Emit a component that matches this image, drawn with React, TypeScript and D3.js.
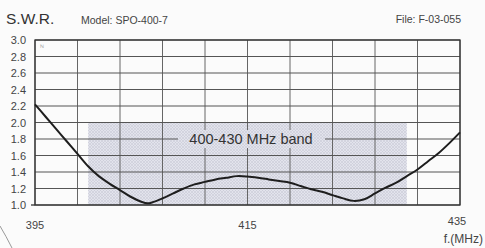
import React, { useEffect } from "react";
import * as d3 from "d3";

// S.W.R. curve (MHz, SWR)
const freqs = [395, 396, 397, 398, 399, 400, 401, 402, 403, 404, 405, 405.6, 406, 407, 408, 409, 410, 411, 412, 413, 414, 415, 416, 417, 418, 419, 420, 421, 422, 423, 424, 425, 426, 427, 428, 429, 430, 431, 432, 433, 434, 435];
const swr = [2.22, 2.07, 1.92, 1.77, 1.62, 1.47, 1.35, 1.26, 1.18, 1.1, 1.04, 1.02, 1.03, 1.08, 1.14, 1.2, 1.25, 1.28, 1.31, 1.33, 1.35, 1.345, 1.33, 1.31, 1.29, 1.27, 1.23, 1.19, 1.16, 1.12, 1.08, 1.05, 1.07, 1.14, 1.21, 1.27, 1.35, 1.43, 1.53, 1.63, 1.75, 1.88];
const xTickLabels = [395, 415, 435];
const band = { from: 400, to: 430, swrMax: 2.0, label: "400-430 MHz band" };
const title = "S.W.R.";
const model = "Model:  SPO-400-7";
const fileRef = "File:  F-03-055";
const xUnit = "f.(MHz)";

const W = 485;
const H = 248;
const font = "'Liberation Sans', Arial, sans-serif";

const App: React.FC = () => {
    useEffect(() => {
        document.body.style.margin = "0";
    }, []);

    const x = d3.scaleLinear().domain([395, 435]).range([35, 460]);
    const y = d3.scaleLinear().domain([1, 3]).range([205, 40]);

    const vGrid = d3.range(395, 435.1, 4);
    const hGrid = d3.range(1, 3.01, 0.2);

    const data = freqs.map((f, i) => ({ f, v: swr[i] }));
    const line = d3
        .line<{ f: number; v: number }>()
        .x((d) => x(d.f))
        .y((d) => y(d.v))
        .curve(d3.curveCatmullRom.alpha(0.5));

    const labelBox = { x0: 178, x1: 325, y0: y(1.8) - 9, y1: y(1.8) + 9 };

    return (
        <svg width={W} height={H} style={{ display: "block", background: "#fbfbfb" }} fontFamily={font}>
            <defs>
                <pattern id="hatch" width="3" height="3" patternUnits="userSpaceOnUse">
                    <rect width="3" height="3" fill="#e2e3ec" />
                    <path d="M0,0 L3,3 M3,0 L0,3" stroke="#c9cad6" strokeWidth="0.6" />
                </pattern>
            </defs>

            {/* header */}
            <text x={6} y={24} fontSize={15.5} fill="#333">{title}</text>
            <text x={81} y={23.5} fontSize={10.5} fill="#444">{model}</text>
            <text x={461} y={23} fontSize={10.5} fill="#444" textAnchor="end">{fileRef}</text>

            {/* band */}
            <rect
                x={x(band.from)}
                y={y(band.swrMax)}
                width={x(band.to) - x(band.from)}
                height={y(1) - y(band.swrMax)}
                fill="url(#hatch)"
            />

            {/* grid */}
            {vGrid.map((f) => (
                <line key={"v" + f} x1={x(f)} x2={x(f)} y1={y(3)} y2={y(1)} stroke="#666" strokeWidth={1} />
            ))}
            {hGrid.map((v) => (
                <line key={"h" + v} x1={x(395)} x2={x(435)} y1={y(v)} y2={y(v)} stroke="#555" strokeWidth={1.1} />
            ))}
            <rect x={x(395)} y={y(3)} width={x(435) - x(395)} height={y(1) - y(3)} fill="none" stroke="#333" strokeWidth={1.3} />
            <line x1={x(395) - 4} x2={x(395)} y1={y(1)} y2={y(1)} stroke="#333" strokeWidth={1.3} />

            {/* small mark in top-left cell */}
            <text x={40} y={48} fontSize={5} fill="#777">ℕ</text>

            {/* band label */}
            <rect
                x={labelBox.x0}
                y={labelBox.y0}
                width={labelBox.x1 - labelBox.x0}
                height={labelBox.y1 - labelBox.y0}
                fill="url(#hatch)"
            />
            <text x={(labelBox.x0 + labelBox.x1) / 2 - 0.5} y={y(1.8) + 5} fontSize={14.5} fill="#333" textAnchor="middle">
                {band.label}
            </text>

            {/* curve */}
            <path d={line(data) ?? ""} fill="none" stroke="#1e1e1e" strokeWidth={2} />

            {/* y labels */}
            {hGrid.map((v) => (
                <text key={"yl" + v} x={26} y={y(v) + 4} fontSize={11} fill="#444" textAnchor="end">
                    {d3.format(".1f")(v)}
                </text>
            ))}

            {/* x labels */}
            {xTickLabels.map((f, i) => (
                <text
                    key={"xl" + f}
                    x={x(f) + (i === 0 ? 0 : i === 2 ? -3 : 0)}
                    y={i === 2 ? 225 : 229}
                    fontSize={11}
                    fill="#444"
                    textAnchor="middle"
                >
                    {f}
                </text>
            ))}
            <text x={483} y={243} fontSize={12} fill="#444" textAnchor="end">{xUnit}</text>

            {/* page edge arc at bottom-left */}
            <path d="M0,226 Q6,236 12,248" fill="none" stroke="#999" strokeWidth={1} />
        </svg>
    );
};

export default App;
